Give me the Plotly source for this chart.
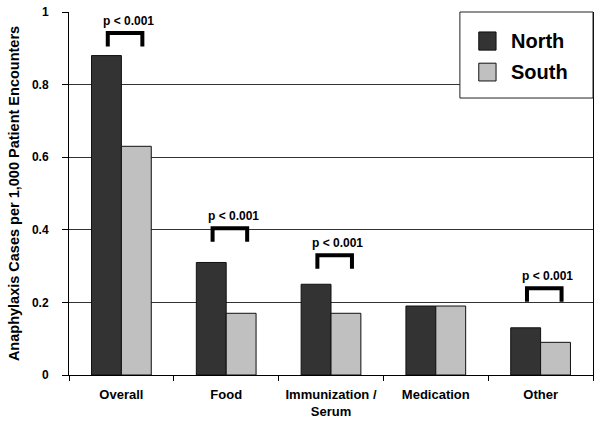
import plotly.graph_objects as go

categories = ["Overall", "Food", "Immunization /<br>Serum", "Medication", "Other"]
north = [0.88, 0.31, 0.25, 0.19, 0.13]
south = [0.63, 0.17, 0.17, 0.19, 0.09]
series_names = ["North", "South"]
series_colors = ["#333333", "#c0c0c0"]
y_ticks = [0, 0.2, 0.4, 0.6, 0.8, 1]
y_tick_labels = ["0", "0.2", "0.4", "0.6", "0.8", "1"]

# significance brackets: category index, bracket top level
sig_index = [0, 1, 2, 4]
sig_label = "p < 0.001"

FONT = "Arial, Liberation Sans, sans-serif"

fig = go.Figure()
for name, vals, col in zip(series_names, [north, south], series_colors):
    fig.add_trace(go.Bar(name=name, x=categories, y=vals, showlegend=False,
                         marker=dict(color=col, line=dict(color="#111111", width=1))))

bracket_top = [0.942, 0.404, 0.33, 0.239]
bracket_drop = 0.037
for idx, top in zip(sig_index, bracket_top):
    x0 = idx - 0.13
    x1 = idx + 0.2
    fig.add_shape(type="path",
                  path=f"M {x0} {top - bracket_drop} L {x0} {top} L {x1} {top} L {x1} {top - bracket_drop}",
                  xref="x", yref="y", line=dict(color="black", width=4))
    fig.add_annotation(x=(x0 + x1) / 2 + 0.03, y=top, xref="x", yref="y",
                       text=f"<b>{sig_label}</b>", showarrow=False, yanchor="bottom", yshift=3,
                       font=dict(family=FONT, size=12, color="black"))

# manual legend box (paper coords)
fig.add_shape(type="rect", xref="paper", yref="paper", x0=0.746, x1=1.0, y0=0.763, y1=1.0,
              line=dict(color="#222222", width=1), fillcolor="white", layer="above")
leg_y = [(0.895, 0.945), (0.81, 0.859)]
for name, col, (ya, yb) in zip(series_names, series_colors, leg_y):
    fig.add_shape(type="rect", xref="paper", yref="paper", x0=0.782, x1=0.815, y0=ya, y1=yb,
                  line=dict(color="#111111", width=1), fillcolor=col, layer="above")
    fig.add_annotation(x=0.84, y=(ya + yb) / 2, xref="paper", yref="paper", xanchor="left",
                       yanchor="middle", text=f"<b>{name}</b>", showarrow=False,
                       font=dict(family=FONT, size=20, color="black"))

fig.update_layout(
    width=601, height=425,
    margin=dict(l=69, r=8, t=12, b=50),
    paper_bgcolor="white", plot_bgcolor="white",
    barmode="group", bargap=0.43, bargroupgap=0,
    font=dict(family=FONT, color="black"),
    showlegend=False,
    xaxis=dict(tickmode="array", tickvals=categories,
               ticktext=[f"<b>{c}</b>" for c in categories],
               tickfont=dict(family=FONT, size=13, color="black"),
               tickson="boundaries", ticks="outside", ticklen=5, tickcolor="black",
               ticklabelstandoff=7,
               showline=True, linecolor="black", linewidth=1, mirror=False,
               showgrid=False, automargin=False),
    yaxis=dict(range=[0, 1], tickmode="array", tickvals=y_ticks,
               ticktext=[f"<b>{t}</b>" for t in y_tick_labels],
               tickfont=dict(family=FONT, size=12, color="black"),
               ticks="outside", ticklen=6, tickcolor="black",
               ticklabelstandoff=11,
               showline=True, linecolor="black", linewidth=1, mirror=True,
               showgrid=True, gridcolor="#333333", gridwidth=1,
               zeroline=False, automargin=False,
               title=dict(text="<b>Anaphylaxis Cases per 1,000 Patient Encounters</b>",
                          font=dict(family=FONT, size=14.5, color="black"), standoff=8)),
)

fig.write_html("out.html", config={"displayModeBar": False},
               post_script="document.body.style.margin='0';")
